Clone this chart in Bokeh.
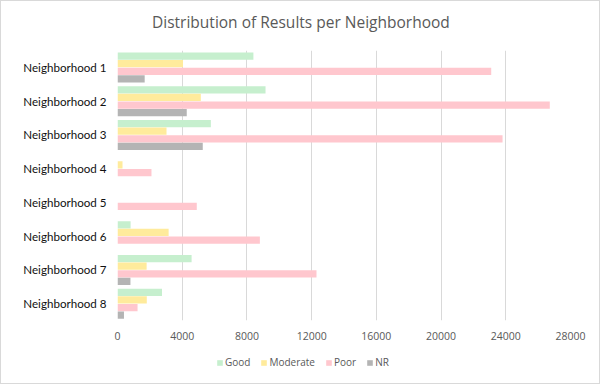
from bokeh.plotting import figure
from bokeh.layouts import column
from bokeh.models import FactorRange, Legend, LegendItem, ColumnDataSource, Range1d, SingleIntervalTicker
from bokeh.core.properties import value
from bokeh.transform import dodge
from bokeh.embed import file_html
from bokeh.resources import INLINE

title_text = "Distribution of Results per Neighborhood"
categories = ["Neighborhood 1", "Neighborhood 2", "Neighborhood 3", "Neighborhood 4",
              "Neighborhood 5", "Neighborhood 6", "Neighborhood 7", "Neighborhood 8"]
good = [8400, 9150, 5770, 0, 0, 810, 4580, 2750]
moderate = [4050, 5150, 3030, 310, 0, 3160, 1800, 1810]
poor = [23100, 26720, 23800, 2100, 4900, 8800, 12300, 1240]
nr = [1680, 4280, 5270, 0, 0, 0, 800, 400]
series_names = ["Good", "Moderate", "Poor", "NR"]
colors = ["#C6EFCE", "#FFEB9C", "#FFC7CE", "#B4B4B4"]

src = ColumnDataSource(dict(cat=categories, Good=good, Moderate=moderate, Poor=poor, NR=nr))

def strip(h):
    f = figure(width=598, height=h, output_backend="svg", toolbar_location=None,
               x_range=Range1d(0, 1), y_range=Range1d(0, 1), x_axis_type=None, y_axis_type=None,
               min_border_left=0, min_border_right=0, min_border_top=0, min_border_bottom=0)
    f.outline_line_color = None
    f.xgrid.visible = False
    f.ygrid.visible = False
    return f

# title strip (frames are aligned with the chart frame: x 117..569)
pt = strip(40)
pt.text(x=[(300 - 117) / 452], y=[0.5], text=[title_text], text_align="center",
        text_baseline="middle", text_font=value("Open Sans"), text_font_size="15.5px",
        text_color="#595959")

p = figure(width=598, height=305, output_backend="svg", toolbar_location=None,
           y_range=FactorRange(factors=list(reversed(categories)), range_padding=0),
           x_range=Range1d(0, 28000),
           min_border_left=116, min_border_right=29, min_border_top=9, min_border_bottom=26)

offsets = [0.335, 0.11, -0.115, -0.34]
for name, col, off in zip(series_names, colors, offsets):
    p.hbar(y=dodge("cat", off, range=p.y_range), right=name, left=0, height=0.215,
           source=src, fill_color=col, line_color=None)

p.xaxis.ticker = SingleIntervalTicker(interval=4000)
p.xaxis.axis_line_color = None
p.xaxis.major_tick_line_color = None
p.xaxis.minor_tick_line_color = None
p.xaxis.major_label_text_font = "Open Sans"
p.xaxis.major_label_text_font_size = "10.5px"
p.xaxis.major_label_text_color = "#595959"
p.xaxis.major_label_standoff = 5

p.yaxis.axis_line_color = None
p.yaxis.major_tick_line_color = None
p.yaxis.minor_tick_line_color = None
p.yaxis.major_label_text_font = "Lato"
p.yaxis.major_label_text_font_size = "11.6px"
p.yaxis.major_label_text_color = "#111111"
p.yaxis.major_label_standoff = 5

p.xgrid.grid_line_color = "#D9D9D9"
p.ygrid.grid_line_color = None
p.outline_line_color = None

# legend strip below the chart
pl = strip(37)
items = []
for name, col in zip(series_names, colors):
    proxy = pl.hbar(y=[-10], right=[0], left=[0], height=0.5, fill_color=col, line_color=None)
    items.append(LegendItem(label=name, renderers=[proxy]))
legend = Legend(items=items, orientation="horizontal", location=(99, 14),
                label_text_font="Open Sans", label_text_font_size="10px",
                label_text_color="#595959", glyph_width=7, glyph_height=7,
                spacing=10, label_standoff=2, border_line_color=None,
                background_fill_alpha=0, padding=0, margin=0)
pl.add_layout(legend)

layout = column(pt, p, pl, spacing=0, styles={"border": "1px solid #D9D9D9"})

open("out.html", "w").write(file_html(layout, INLINE))
